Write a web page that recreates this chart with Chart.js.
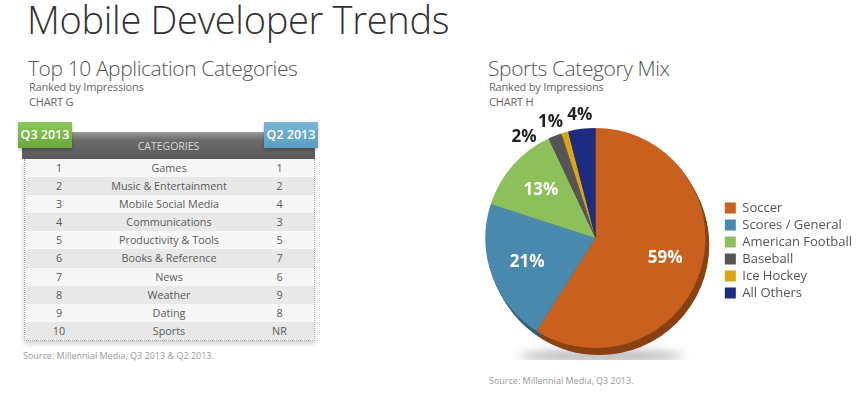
<!DOCTYPE html>
<html>
<head>
<meta charset="utf-8">
<script src="https://cdn.jsdelivr.net/npm/chart.js@4/dist/chart.umd.min.js"></script>
<style>
  body { margin: 0; background: #fff; font-family: "Open Sans", sans-serif; color: #555; }
  #page { position: relative; width: 862px; height: 393px; overflow: hidden; }
  .abs { position: absolute; white-space: nowrap; }
  .title { left: 27px; top: -7px; font-size: 38px; font-weight: 300; color: #333; letter-spacing: -0.3px; }
  .sub { font-size: 21px; font-weight: 300; color: #555; letter-spacing: -0.4px; }
  .small { font-size: 11px; color: #666; letter-spacing: -0.2px; }
  .src { font-size: 9px; color: #999; }
  #table { left: 24px; top: 159px; width: 289px; border: 1px dotted #aaa; border-top: none;
           box-shadow: 0 3px 5px rgba(0,0,0,0.18); }
  #table div.row { display: flex; height: 18.1px; line-height: 18px; font-size: 10.8px; color: #5a5a5a; }
  #table div.row:nth-child(odd) { background: #f7f7f7; }
  #table div.row:nth-child(even) { background: #e8e8e8; }
  .c1 { width: 68px; text-align: center; }
  .c2 { width: 152px; text-align: center; }
  .c3 { width: 69px; text-align: center; }
  #head { left: 22px; top: 132px; width: 293px; height: 27px; background: linear-gradient(#9a9a9a, #6b6b6b 30%, #5a5a5a);
          color: #d8d8d8; font-size: 10.5px; text-align: center; line-height: 28px; }
  .tab { top: 122px; width: 54px; height: 26px; color: #fff; font-weight: 600; font-size: 12.5px; text-align: center; line-height: 26px;
         box-shadow: 0 2px 3px rgba(0,0,0,0.25); }
  #tabL { left: 18px; background: linear-gradient(#8cc85a, #6aa83c); }
  #tabR { left: 264px; background: linear-gradient(#79b6d8, #5a9cc4); }
  #chartBox { left: 470px; top: 95px; width: 392px; height: 265px; }
</style>
</head>
<body>
<div id="page">
  <div class="abs title">Mobile Developer Trends</div>

  <div class="abs sub" style="left:28px; top:54px;">Top 10 Application Categories</div>
  <div class="abs small" style="left:29px; top:79px;">Ranked by Impressions</div>
  <div class="abs small" style="left:29px; top:94px;">CHART G</div>

  <div class="abs" id="head">CATEGORIES</div>
  <div class="abs tab" id="tabL">Q3 2013</div>
  <div class="abs tab" id="tabR">Q2 2013</div>
  <div class="abs" id="table"></div>
  <div class="abs src" style="left:23px; top:349px;">Source: Millennial Media, Q3 2013 &amp; Q2 2013.</div>

  <div class="abs sub" style="left:488px; top:54px;">Sports Category Mix</div>
  <div class="abs small" style="left:489px; top:79px;">Ranked by Impressions</div>
  <div class="abs small" style="left:489px; top:94px;">CHART H</div>
  <div class="abs src" style="left:489px; top:374px;">Source: Millennial Media, Q3 2013.</div>

  <div class="abs" id="chartBox"><canvas id="pie"></canvas></div>
</div>

<script>
// table data (chart G)
const q3Rank = ['1', '2', '3', '4', '5', '6', '7', '8', '9', '10'];
const appCategories = ['Games', 'Music & Entertainment', 'Mobile Social Media', 'Communications',
  'Productivity & Tools', 'Books & Reference', 'News', 'Weather', 'Dating', 'Sports'];
const q2Rank = ['1', '2', '4', '3', '5', '7', '6', '9', '8', 'NR'];

// pie data (chart H)
const sportLabels = ['Soccer', 'Scores / General', 'American Football', 'Baseball', 'Ice Hockey', 'All Others'];
const sportShare = [59, 21, 13, 2, 1, 4];
const sportColors = ['#c9601e', '#4a89ae', '#8dbf5b', '#555558', '#d8a514', '#1e2b80'];

// rellenar la tabla
const table = document.getElementById('table');
appCategories.forEach((cat, i) => {
    const row = document.createElement('div');
    row.className = 'row';
    [q3Rank[i], cat, q2Rank[i]].forEach((txt, j) => {
        const cell = document.createElement('div');
        cell.className = 'c' + (j + 1);
        cell.textContent = txt;
        row.appendChild(cell);
    });
    table.appendChild(row);
});

const darken = (hex, f) => {
    const n = parseInt(hex.slice(1), 16);
    const r = Math.round(((n >> 16) & 255) * f), g = Math.round(((n >> 8) & 255) * f), b = Math.round((n & 255) * f);
    return `rgb(${r},${g},${b})`;
};

// lado 3D y sombra debajo del pastel
const depthPlugin = {
    id: 'depth',
    beforeDatasetsDraw(chart) {
        const ctx = chart.ctx;
        const arcs = chart.getDatasetMeta(0).data;
        if (!arcs.length) return;
        const { x, y, outerRadius } = arcs[0].getProps(['x', 'y', 'outerRadius'], true);
        ctx.save();
        ctx.filter = 'blur(5px)';
        ctx.fillStyle = 'rgba(0,0,0,0.28)';
        ctx.beginPath();
        ctx.ellipse(x + 6, y + outerRadius + 8, outerRadius * 0.75, 6, 0, 0, Math.PI * 2);
        ctx.fill();
        ctx.restore();
        arcs.forEach((arc, i) => {
            const p = arc.getProps(['x', 'y', 'startAngle', 'endAngle', 'outerRadius'], true);
            ctx.save();
            ctx.fillStyle = darken(sportColors[i], 0.68);
            for (let k = 1; k <= 7; k++) {
                ctx.beginPath();
                ctx.moveTo(p.x + k * 0.55, p.y + k);
                ctx.arc(p.x + k * 0.55, p.y + k, p.outerRadius, p.startAngle, p.endAngle);
                ctx.closePath();
                ctx.fill();
            }
            ctx.restore();
        });
    }
};

// etiquetas de porcentaje
const labelPlugin = {
    id: 'pctLabels',
    afterDatasetsDraw(chart) {
        const ctx = chart.ctx;
        const arcs = chart.getDatasetMeta(0).data;
        const items = arcs.map((arc, i) => {
            const p = arc.getProps(['x', 'y', 'startAngle', 'endAngle', 'outerRadius'], true);
            return { i, p, mid: (p.startAngle + p.endAngle) / 2, inside: sportShare[i] >= 10 };
        });
        // separar las etiquetas exteriores
        const outside = items.filter(it => !it.inside);
        const minGap = 14 * Math.PI / 180;
        for (let k = outside.length - 2; k >= 0; k--) {
            outside[k].mid = Math.min(outside[k].mid, outside[k + 1].mid - minGap);
        }
        ctx.save();
        ctx.font = 'bold 17px "Open Sans"';
        ctx.textAlign = 'center';
        ctx.textBaseline = 'middle';
        items.forEach(it => {
            const r = it.inside ? it.p.outerRadius * 0.66 : it.p.outerRadius + 14;
            ctx.fillStyle = it.inside ? '#ffffff' : '#222222';
            ctx.fillText(sportShare[it.i] + '%', it.p.x + Math.cos(it.mid) * r, it.p.y + Math.sin(it.mid) * r);
        });
        ctx.restore();
    }
};

new Chart(document.getElementById('pie'), {
    type: 'pie',
    data: {
        labels: sportLabels,
        datasets: [{
            data: sportShare,
            backgroundColor: sportColors,
            borderWidth: 0
        }]
    },
    options: {
        responsive: true,
        maintainAspectRatio: false,
        animation: false,
        layout: { padding: { top: 33, bottom: 12, left: 0, right: 0 } },
        plugins: {
            tooltip: { enabled: false },
            legend: {
                position: 'right',
                align: 'start',
                title: { display: true, text: '', padding: { top: 55, bottom: 0 } },
                labels: {
                    boxWidth: 11,
                    boxHeight: 11,
                    padding: 4,
                    color: '#555',
                    font: { family: '"Open Sans"', size: 13 }
                }
            }
        }
    },
    plugins: [depthPlugin, labelPlugin]
});
</script>
</body>
</html>
